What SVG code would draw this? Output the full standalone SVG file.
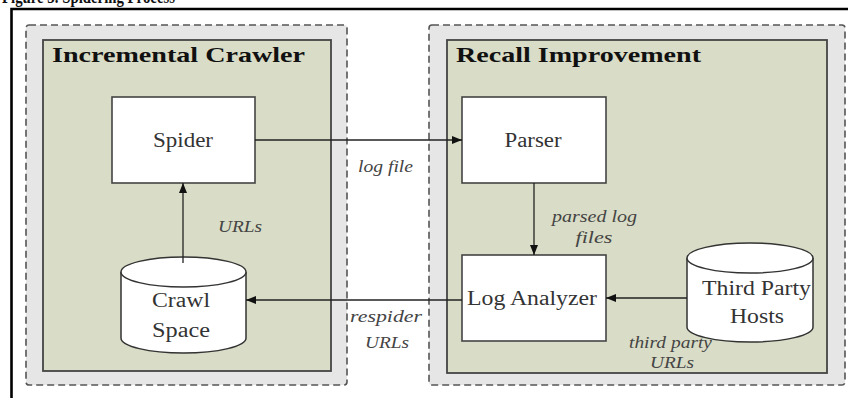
<svg xmlns="http://www.w3.org/2000/svg" width="848" height="398" viewBox="0 0 848 398">
<defs>
<style>
.outer{fill:#e6e6e6;stroke:#555;stroke-width:1.6;stroke-dasharray:7 4}
.inner{fill:#d9dcc6;stroke:#444;stroke-width:1.8}
.box{fill:#fff;stroke:#444;stroke-width:1.6}
.cyl{fill:#fff;stroke:#333;stroke-width:1.5}
.t{font-family:'Liberation Serif','Times New Roman',Times,serif;font-size:20px;fill:#333}
.ttl{font-family:'Liberation Serif','Times New Roman',Times,serif;font-size:22px;font-weight:bold;fill:#111}
.lbl{font-family:'Liberation Serif','Times New Roman',Times,serif;font-size:17px;font-style:italic;fill:#444}
.cap{font-family:'Liberation Serif','Times New Roman',Times,serif;font-size:18px;font-weight:bold;fill:#111}
.edge{stroke:#222;stroke-width:1.3;fill:none}
</style>
<marker id="ah" viewBox="0 0 10 8" refX="10" refY="4" markerWidth="10" markerHeight="8" markerUnits="userSpaceOnUse" orient="auto">
<path d="M0,0 L10,4 L0,8 Z" fill="#111"/>
</marker>
</defs>
<rect width="848" height="398" fill="#fff"/>
<text class="cap" x="2" y="3" textLength="173" lengthAdjust="spacingAndGlyphs">Figure 3. Spidering Process</text>
<path d="M11.5,398 V9 H848" fill="none" stroke="#000" stroke-width="2.6"/>

<g id="incremental-crawler">
<rect class="outer" x="26" y="25" width="321" height="360" rx="3"/>
<rect class="inner" x="43" y="40" width="288" height="331"/>
<text class="ttl" x="52" y="62" textLength="253" lengthAdjust="spacingAndGlyphs">Incremental Crawler</text>
</g>
<g id="recall-improvement">
<rect class="outer" x="429" y="25" width="416" height="360" rx="3"/>
<rect class="inner" x="447" y="40" width="380" height="333"/>
<text class="ttl" x="456" y="62" textLength="245" lengthAdjust="spacingAndGlyphs">Recall Improvement</text>
</g>

<g id="spider">
<rect class="box" x="112" y="97" width="143" height="86"/>
<text class="t" x="183" y="147" text-anchor="middle" textLength="60" lengthAdjust="spacingAndGlyphs">Spider</text>
</g>
<g id="crawl-space">
<path class="cyl" d="M121,272 V338 A62.5,15 0 0 0 246,338 V272 A62.5,15 0 0 0 121,272 Z"/>
<path class="cyl" d="M121,272 A62.5,15 0 0 0 246,272" fill="none"/>
<text class="t" x="181" y="307" text-anchor="middle" textLength="58" lengthAdjust="spacingAndGlyphs">Crawl</text>
<text class="t" x="181" y="337" text-anchor="middle" textLength="58" lengthAdjust="spacingAndGlyphs">Space</text>
</g>
<g id="parser">
<rect class="box" x="462" y="97" width="144" height="86"/>
<text class="t" x="533" y="147" text-anchor="middle" textLength="57" lengthAdjust="spacingAndGlyphs">Parser</text>
</g>
<g id="log-analyzer">
<rect class="box" x="462" y="255" width="144" height="86"/>
<text class="t" x="532" y="305" text-anchor="middle" textLength="130" lengthAdjust="spacingAndGlyphs">Log Analyzer</text>
</g>
<g id="third-party-hosts">
<path class="cyl" d="M687,258 V327 A63,15 0 0 0 813,327 V258 A63,15 0 0 0 687,258 Z"/>
<path class="cyl" d="M687,258 A63,15 0 0 0 813,258" fill="none"/>
<text class="t" x="702" y="295" textLength="109" lengthAdjust="spacingAndGlyphs">Third Party</text>
<text class="t" x="757" y="323" text-anchor="middle" textLength="54" lengthAdjust="spacingAndGlyphs">Hosts</text>
</g>

<g id="connectors">
<path class="edge" d="M255,140 H462" marker-end="url(#ah)"/>
<path class="edge" d="M183,263 V183" marker-end="url(#ah)"/>
<path class="edge" d="M534,183 V255" marker-end="url(#ah)"/>
<path class="edge" d="M462,300 H246" marker-end="url(#ah)"/>
<path class="edge" d="M687,298 H606" marker-end="url(#ah)"/>
<text class="lbl" x="358" y="172" textLength="55" lengthAdjust="spacingAndGlyphs">log file</text>
<text class="lbl" x="218" y="232" textLength="44" lengthAdjust="spacingAndGlyphs">URLs</text>
<text class="lbl" x="552" y="222" textLength="85" lengthAdjust="spacingAndGlyphs">parsed log</text>
<text class="lbl" x="594" y="243" text-anchor="middle" textLength="37" lengthAdjust="spacingAndGlyphs">files</text>
<text class="lbl" x="350" y="322" textLength="72" lengthAdjust="spacingAndGlyphs">respider</text>
<text class="lbl" x="387" y="348" text-anchor="middle" textLength="44" lengthAdjust="spacingAndGlyphs">URLs</text>
<text class="lbl" x="629" y="348" textLength="83" lengthAdjust="spacingAndGlyphs">third party</text>
<text class="lbl" x="672" y="368" text-anchor="middle" textLength="44" lengthAdjust="spacingAndGlyphs">URLs</text>
</g>
</svg>
